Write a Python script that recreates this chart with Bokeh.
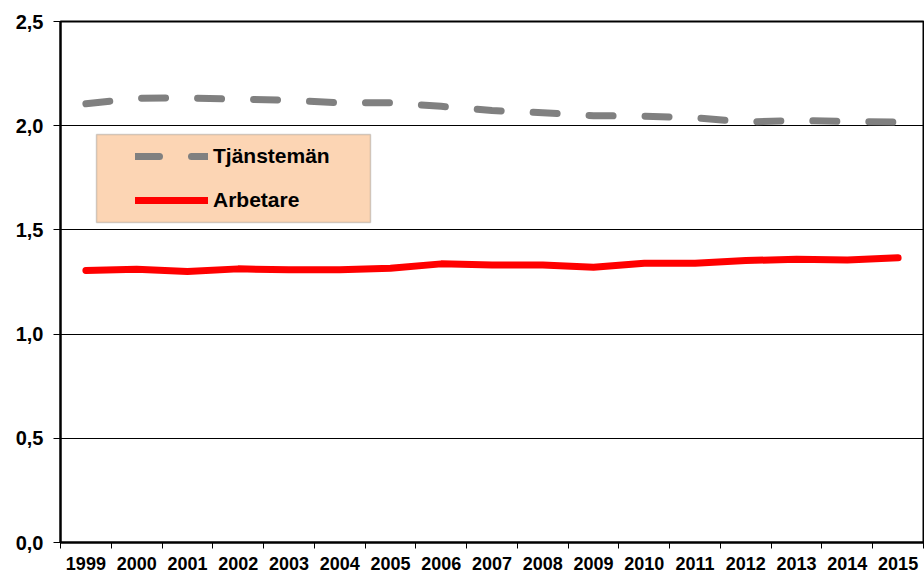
from bokeh.plotting import figure
from bokeh.models import (Range1d, FixedTicker, CustomJSTickFormatter, Legend,
                          LegendItem, BoxAnnotation)
from bokeh.embed import file_html
from bokeh.resources import INLINE

years = list(range(1999, 2016))
tjanstemän = [2.105, 2.132, 2.133, 2.127, 2.122, 2.110, 2.110, 2.093, 2.073,
              2.062, 2.048, 2.046, 2.038, 2.018, 2.025, 2.020, 2.017]
arbetare = [1.305, 1.311, 1.300, 1.313, 1.309, 1.309, 1.316, 1.337, 1.332,
            1.332, 1.321, 1.340, 1.340, 1.353, 1.359, 1.356, 1.366]
y_ticks = [0.0, 0.5, 1.0, 1.5, 2.0, 2.5]
label_t = "Tjänstemän"
label_a = "Arbetare"

FONT = "Liberation Sans"

p = figure(width=924, height=574, output_backend="svg", toolbar_location=None,
           x_range=Range1d(years[0] - 0.5, years[-1] + 0.5),
           y_range=Range1d(0, 2.5),
           min_border_left=60, min_border_top=21, min_border_right=1,
           min_border_bottom=32)
p.frame_width = 863
p.frame_height = 521
p.background_fill_color = "white"
p.border_fill_color = "white"
p.outline_line_color = "black"
p.outline_line_width = 2

# x axis: labels at year centres, tick marks at boundaries (minor ticks)
p.xaxis.ticker = FixedTicker(ticks=years,
                             minor_ticks=[y - 0.5 for y in years] + [years[-1] + 0.5])
p.xaxis.major_tick_line_color = None
p.xaxis.major_tick_in = 0
p.xaxis.major_tick_out = 0
p.xaxis.minor_tick_in = 0
p.xaxis.minor_tick_out = 6
p.xaxis.minor_tick_line_color = "black"
p.xaxis.minor_tick_line_width = 1
p.xaxis.major_label_standoff = 8
p.xaxis.axis_line_width = 2
p.xaxis.axis_line_color = "black"
p.xaxis.major_label_text_font = FONT
p.xaxis.major_label_text_font_style = "bold"
p.xaxis.major_label_text_font_size = "18px"
p.xaxis.major_label_text_color = "black"
p.xgrid.grid_line_color = None

p.yaxis.ticker = FixedTicker(ticks=y_ticks, minor_ticks=[])
p.yaxis.formatter = CustomJSTickFormatter(code="return tick.toFixed(1).replace('.', ',');")
p.yaxis.major_tick_in = 0
p.yaxis.major_tick_out = 7
p.yaxis.major_tick_line_color = "black"
p.yaxis.minor_tick_line_color = None
p.yaxis.axis_line_width = 2
p.yaxis.axis_line_color = "black"
p.yaxis.major_label_standoff = 10
p.yaxis.major_label_text_font = FONT
p.yaxis.major_label_text_font_style = "bold"
p.yaxis.major_label_text_font_size = "20px"
p.yaxis.major_label_text_color = "black"
p.ygrid.ticker = FixedTicker(ticks=[0.5, 1.0, 1.5, 2.0])
p.ygrid.grid_line_color = "black"
p.ygrid.grid_line_width = 1

r_t = p.line(years, tjanstemän, line_color="#808080", line_width=7,
             line_dash="24 32", line_cap="round", line_join="round")
r_a = p.line(years, arbetare, line_color="#FF0000", line_width=7,
             line_cap="round", line_join="round")

# legend box
box = BoxAnnotation(left=36, right=310, bottom=320, top=408,
                    left_units="screen", right_units="screen",
                    bottom_units="screen", top_units="screen",
                    fill_color="#FCD5B4", fill_alpha=1.0,
                    line_color="#707070", line_width=1.5, level="annotation")
p.add_layout(box)

legend = Legend(items=[LegendItem(label=label_t, renderers=[r_t]),
                       LegendItem(label=label_a, renderers=[r_a])],
                location=(75, 330), padding=0, margin=0, spacing=20,
                glyph_width=73, glyph_height=24, label_height=24,
                label_standoff=5,
                label_text_font=FONT, label_text_font_style="bold",
                label_text_font_size="21px", label_text_color="black",
                background_fill_alpha=0, border_line_color=None)
p.add_layout(legend)

open("out.html", "w").write(file_html(p, INLINE))
